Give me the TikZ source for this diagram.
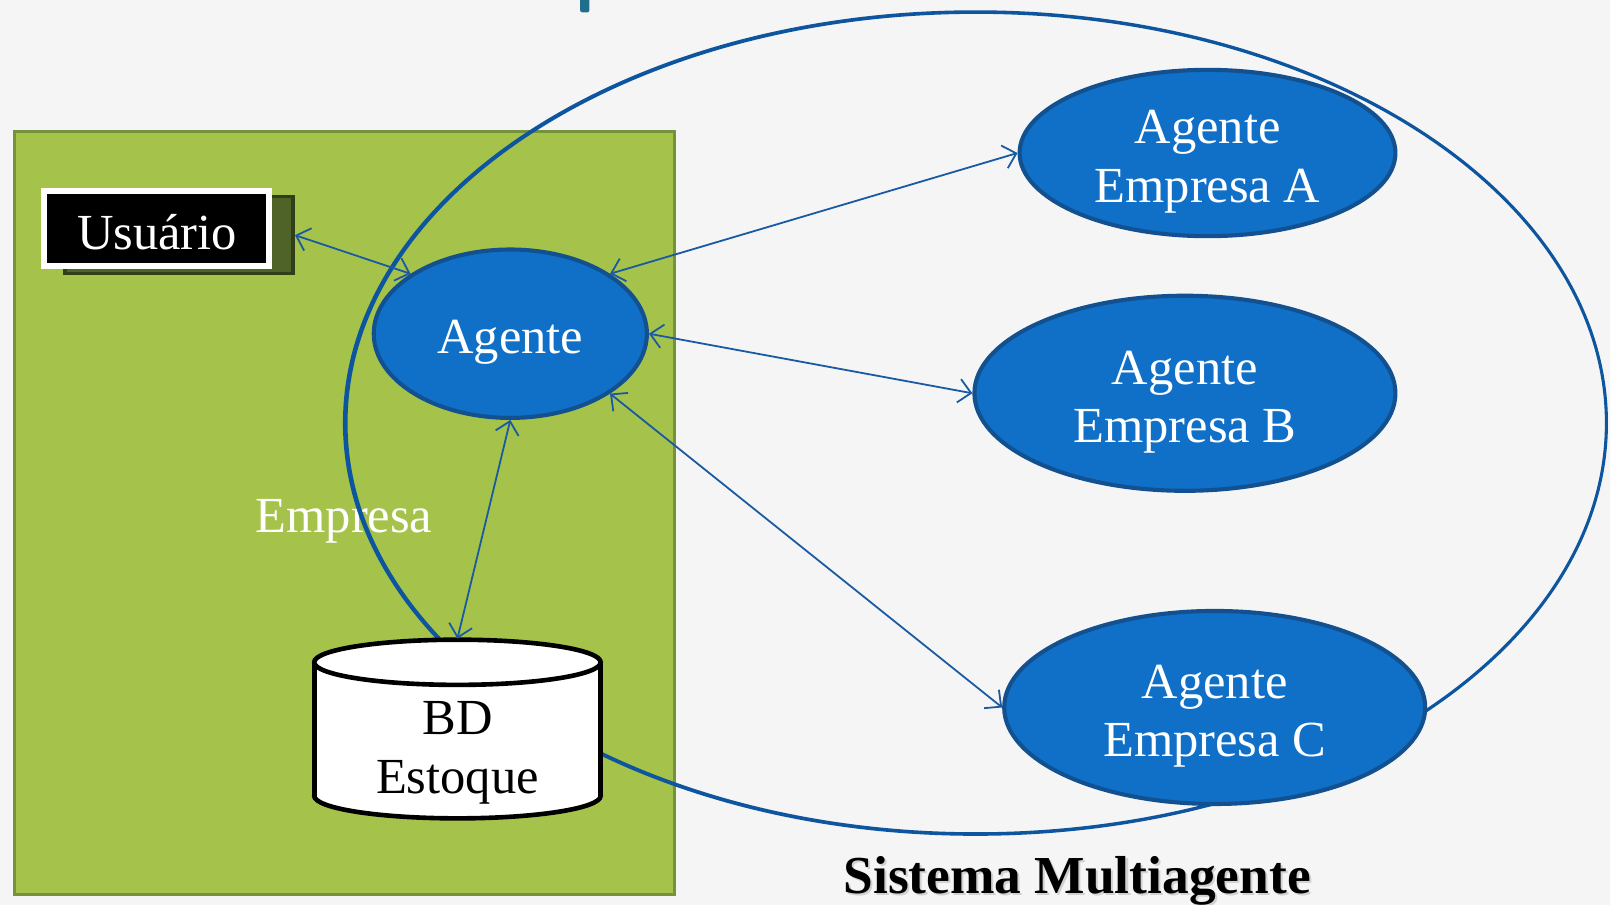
\documentclass[tikz,border=0pt]{standalone}
\usepackage{fontspec}
\setmainfont{Liberation Serif}
\usetikzlibrary{shapes.geometric,arrows.meta}
\definecolor{bg}{HTML}{F5F5F5}
\definecolor{grn}{HTML}{A5C34A}
\definecolor{grnb}{HTML}{76923C}
\definecolor{ablue}{HTML}{1070C7}
\definecolor{ablueb}{HTML}{12508F}
\definecolor{sysc}{HTML}{0D559E}
\definecolor{arrc}{HTML}{1A5AA3}
\definecolor{olive}{HTML}{4F6228}
\definecolor{oliveb}{HTML}{323E17}
\definecolor{tealc}{HTML}{1F6E8C}
\begin{document}
\begin{tikzpicture}[x=0.2mm,y=-0.2mm,
  bigfont/.style={font=\fontsize{28}{32.4}\selectfont},
  agtext/.style={text=white, align=center, bigfont, inner sep=0pt, yshift=-1.7mm},
  agent/.style={ellipse, fill=ablue, draw=ablueb, line width=0.8mm, inner sep=0pt,
    label={[agtext]center:#1}},
  link/.style={draw=arrc, line width=0.35mm,
    {Straight Barb[length=2.4mm,width=4.6mm]}-{Straight Barb[length=2.4mm,width=4.6mm]}},
  cyl/.style={draw=black, line width=0.9mm}
]
\fill[bg] (0,0) rectangle (1568,881);
\useasboundingbox (0,0) rectangle (1568,881);
% cut-off title fragment
\fill[tealc, rounded corners=0.4mm] (565,-5) rectangle (574,12);
% company box
\draw[fill=grn, draw=grnb, line width=0.7mm] (14,128) rectangle (657,871);
% user box
\node[draw=oliveb, fill=olive, line width=0.7mm, minimum width=44.4mm, minimum height=15mm, inner sep=0pt] (ushadow) at (174.5,229) {};
\node[fill=black, draw=white, line width=1.2mm, minimum width=43.8mm, minimum height=14.6mm, inner sep=0pt] (usuario) at (152.5,222.5) {};
\node[text=white, bigfont, anchor=base] (usutext) at (153,243) {Usuário};
\node[text=white, bigfont, anchor=base] (emp) at (335,519) {Empresa};
% multi-agent system ellipse
\fill[sysc, even odd rule] (950,412) ellipse [x radius=12.32cm, y radius=8.04cm]
  (950.75,412) ellipse [x radius=12.245cm, y radius=7.97cm];
% database cylinder
\fill[white] (306,645) rectangle (585,775);
\fill[white] (445.5,775) ellipse [x radius=2.79cm, y radius=0.44cm];
\begin{scope}
  \clip (290,775) rectangle (600,810);
  \draw[cyl] (445.5,775) ellipse [x radius=2.79cm, y radius=0.44cm];
\end{scope}
\draw[cyl] (306,645) -- (306,776) (585,645) -- (585,776);
\draw[cyl, fill=white] (445.5,645) ellipse [x radius=2.79cm, y radius=0.44cm];
\node[bigfont, align=center] (bd) at (445.5,733) {BD\\Estoque};
\coordinate (bdtop) at (445.5,622);
% agents
\node[agent=Agente, minimum width=53.2mm, minimum height=32.8mm] (ag) at (497,325) {};
\node[agent={Agente\\Empresa A}, minimum width=73.2mm, minimum height=32.4mm] (ea) at (1176,149) {};
\node[agent={Agente\\Empresa B}, minimum width=82mm, minimum height=38mm] (eb) at (1154,383) {};
\node[agent={Agente\\Empresa C}, minimum width=82mm, minimum height=37.6mm] (ec) at (1183,689) {};
% links
\draw[link] (ushadow.east) -- (ag.149);
\draw[link] (ag.31) -- (ea.west);
\draw[link] (ag.east) -- (eb.west);
\draw[link] (ag.-31) -- (ec.west);
\draw[link] (ag.south) -- (bdtop);
% caption
\node[font=\bfseries\fontsize{29.6}{34}\selectfont, text=black!18, anchor=base] (sysshadow) at (1051,872) {Sistema Multiagente};
\node[font=\bfseries\fontsize{29.6}{34}\selectfont, anchor=base] (sys) at (1049,870) {Sistema Multiagente};
\end{tikzpicture}
\end{document}
